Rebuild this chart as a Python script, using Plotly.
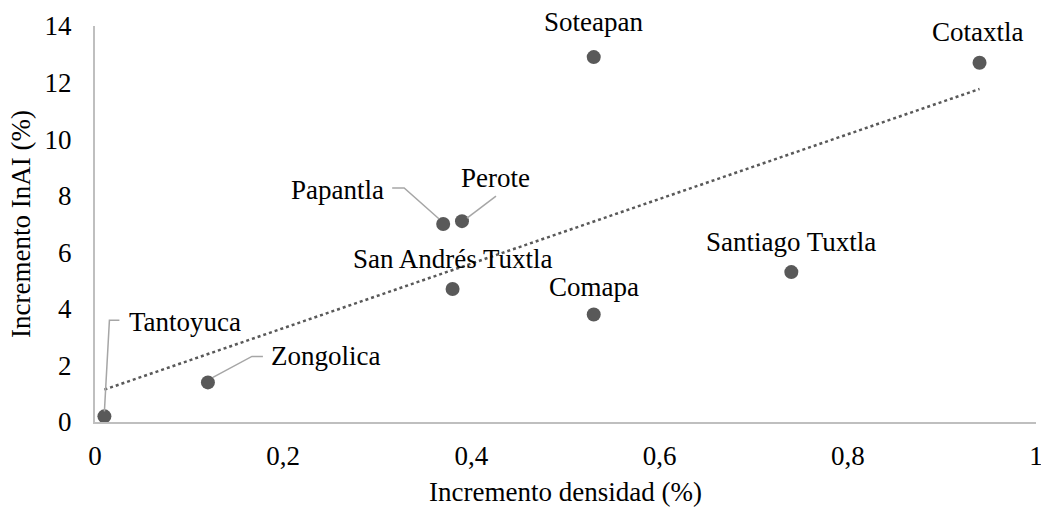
import numpy as np
import plotly.graph_objects as go

municipios = ["Tantoyuca", "Zongolica", "Papantla", "Perote", "San Andrés Tuxtla",
              "Comapa", "Soteapan", "Santiago Tuxtla", "Cotaxtla"]
inc_densidad = [0.01, 0.12, 0.37, 0.39, 0.38, 0.53, 0.53, 0.74, 0.94]
inc_inai = [0.2, 1.4, 7.0, 7.1, 4.7, 3.8, 12.9, 5.3, 12.7]

x_ticks = [0, 0.2, 0.4, 0.6, 0.8, 1]
x_ticktext = ["0", "0,2", "0,4", "0,6", "0,8", "1"]
y_ticks = [0, 2, 4, 6, 8, 10, 12, 14]

# label offsets (pixels) relative to the point
label_off = {
    "Tantoyuca": (81, 94), "Zongolica": (118, 26), "Papantla": (-106, 34),
    "Perote": (34, 43), "San Andrés Tuxtla": (0, 30), "Comapa": (0, 28),
    "Soteapan": (0, 35), "Santiago Tuxtla": (0, 30), "Cotaxtla": (-2, 31),
}
# leader line paths (pixels) relative to the point
leaders = {
    "Papantla": "M -51,36 L -39,36 L -4,5",
    "Perote": "M 34,25 L 5,3",
    "Tantoyuca": "M 15,96 L 5,96 L 0,5",
    "Zongolica": "M 55,26 L 44,26 L 5,5",
}

FONT = "Times New Roman, Liberation Serif, serif"
FS = 27
slope, intercept = np.polyfit(inc_densidad, inc_inai, 1)
xt = np.array([min(inc_densidad), max(inc_densidad)])
yt = slope * xt + intercept

fig = go.Figure()
fig.add_trace(go.Scatter(x=xt, y=yt, mode="lines",
                         line=dict(color="#595959", width=2.5, dash="dot"),
                         hoverinfo="skip", showlegend=False))
fig.add_trace(go.Scatter(x=inc_densidad, y=inc_inai, mode="markers",
                         marker=dict(color="#595959", size=14),
                         text=municipios, showlegend=False))

for name, xv, yv in zip(municipios, inc_densidad, inc_inai):
    dx, dy = label_off[name]
    fig.add_annotation(x=xv, y=yv, xref="x", yref="y", text=name, showarrow=False,
                       xshift=dx, yshift=dy, font=dict(family=FONT, size=FS, color="#000000"))
    if name in leaders:
        fig.add_shape(type="path", xref="x", yref="y", xsizemode="pixel", ysizemode="pixel",
                      xanchor=xv, yanchor=yv, path=leaders[name],
                      line=dict(color="#a6a6a6", width=1.5))

fig.update_layout(
    width=1041, height=508,
    margin=dict(l=95, r=5, t=26, b=86),
    paper_bgcolor="white", plot_bgcolor="white",
    font=dict(family=FONT, size=FS, color="#000000"),
    showlegend=False,
)
fig.update_xaxes(range=[0, 1], tickvals=x_ticks, ticktext=x_ticktext, automargin=False,
                 tickfont=dict(family=FONT, size=FS, color="#000000"),
                 ticklabeloverflow="allow",
                 showgrid=False, zeroline=False, showline=True, linecolor="#bfbfbf",
                 linewidth=2, ticks="", ticklabelstandoff=9,
                 title=dict(text="Incremento densidad (%)", standoff=12,
                            font=dict(family=FONT, size=FS)))
fig.update_yaxes(range=[0, 14], tickvals=y_ticks, automargin=False,
                 tickfont=dict(family=FONT, size=FS, color="#000000"),
                 showgrid=False, zeroline=False, showline=True, linecolor="#bfbfbf",
                 linewidth=2, ticks="", ticklabelstandoff=16,
                 title=dict(text="Incremento InAI (%)", standoff=6,
                            font=dict(family=FONT, size=FS)))

fig.write_html("out.html", config={"displayModeBar": False},
               post_script="document.body.style.margin='0';")
